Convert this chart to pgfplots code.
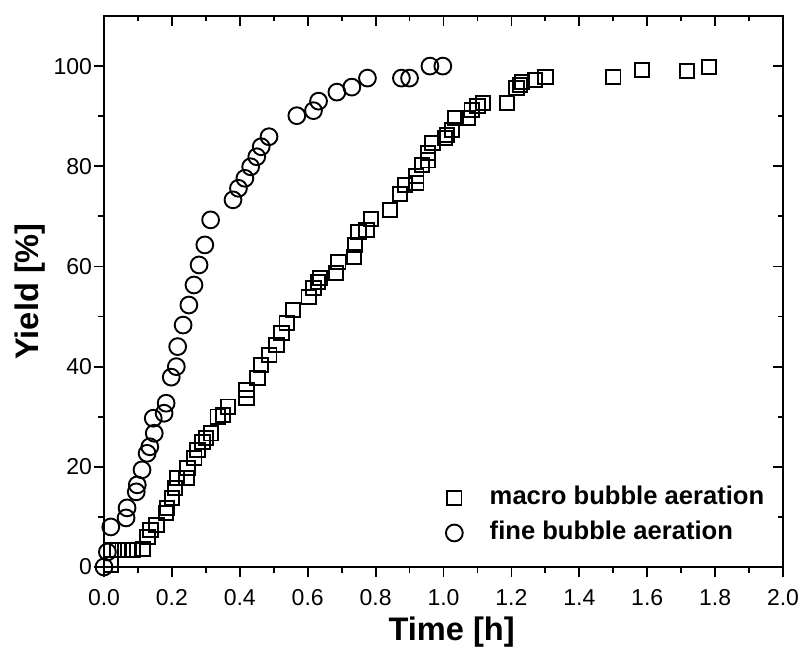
\documentclass[border=0pt]{standalone}
\usepackage{pgfplots}
\pgfplotsset{compat=1.18}
\usepackage{fontspec}
\setmainfont{Liberation Sans}
\pgfplotstableread{
x y
0.02 0.5
0.02 3.4
0.04 3.4
0.055 3.4
0.07 3.4
0.085 3.4
0.115 3.6
0.128 6
0.137 7.4
0.155 8.4
0.183 10.8
0.186 11.8
0.2 13.8
0.209 15.8
0.215 17.8
0.243 17.8
0.246 19.8
0.266 21.8
0.275 23.4
0.29 25
0.3 25.8
0.315 26.7
0.335 30
0.35 30.3
0.365 32
0.42 33.7
0.42 35.3
0.452 37.7
0.462 40.3
0.487 42.3
0.508 44.3
0.523 46.7
0.538 48.7
0.556 51.3
0.603 53.9
0.617 55.7
0.63 56.9
0.636 57.7
0.683 58.7
0.69 60.9
0.736 61.9
0.74 64.3
0.75 66.9
0.773 67.3
0.786 69.5
0.843 71.3
0.872 74.5
0.886 76.3
0.92 76.7
0.92 78.1
0.936 80.3
0.954 81.2
0.954 82.6
0.968 84.6
1.005 85.6
1.01 86.2
1.025 87.2
1.035 89.6
1.072 89.6
1.083 91.2
1.1 92
1.116 92.6
1.187 92.6
1.215 95.6
1.225 96.2
1.232 96.8
1.27 97.2
1.3 97.8
1.5 97.8
1.585 99.2
1.717 99
1.782 99.8
}\macro
\pgfplotstableread{
x y
0 0
0.01 3
0.02 8
0.065 9.8
0.068 11.8
0.095 15
0.098 16.4
0.112 19.4
0.127 22.7
0.135 24
0.148 26.7
0.145 29.7
0.177 30.7
0.183 32.7
0.198 37.9
0.213 40
0.217 44
0.233 48.3
0.25 52.3
0.265 56.3
0.28 60.3
0.297 64.3
0.314 69.3
0.38 73.3
0.396 75.6
0.415 77.6
0.432 79.9
0.45 81.9
0.463 83.9
0.486 85.9
0.568 90.1
0.617 91.1
0.632 93
0.686 94.8
0.73 95.8
0.776 97.6
0.876 97.6
0.9 97.6
0.96 100
0.998 100
}\fine
\begin{document}
\begin{tikzpicture}
\pgfplotsset{
  common/.style={
    scale only axis, width=339.5pt, height=275.5pt,
    xmin=0, xmax=2, ymin=0, ymax=110,
    xtick={0,0.2,0.4,0.6,0.8,1.0,1.2,1.4,1.6,1.8,2.0},
    ytick={0,20,40,60,80,100},
    minor x tick num=1, minor y tick num=1,
    major tick length=5pt, minor tick length=2.75pt,
    every tick/.style={black, line width=0.9pt},
    axis line style={line width=1pt},
  }
}
\begin{axis}[common, name=main,
  tick align=outside, xtick pos=lower, ytick pos=left,
  clip=false,
  tick label style={font=\fontsize{11.5}{14}\selectfont},
  xticklabel style={/pgf/number format/.cd, fixed, fixed zerofill, precision=1, assume math mode=true,
    /tikz/.cd, text height=8.5pt, text depth=0pt, yshift=-2pt},
  yticklabel style={/pgf/number format/.cd, fixed, precision=0, assume math mode=true,
    /tikz/.cd, xshift=2.5pt},
  xlabel={Time [h]}, ylabel={Yield [\%]},
  label style={font=\fontsize{16.3}{19}\selectfont\bfseries},
  xlabel style={at={(axis description cs:0.512,-0.118)}, anchor=center},
  ylabel style={at={(axis description cs:-0.109,0.5)}, anchor=center},
  legend cell align=left,
  legend style={draw=none, fill=none, inner sep=0pt,
    font=\fontsize{12.8}{15}\selectfont\bfseries,
    at={(rel axis cs:0.503,0.0935)}, anchor=west,
    row sep=2pt,
    nodes={text height=9pt, text depth=2.5pt, inner ysep=2pt},
    /tikz/every odd column/.append style={column sep=11.5pt}},
]
\addplot[only marks, mark=square, mark size=3.6pt, mark options={fill=white, line width=0.95pt}] table[x=x,y=y]{\macro};
\addlegendentry{macro bubble aeration}
\addplot[only marks, mark=o, mark size=4.2pt, mark options={fill=white, line width=0.95pt}] table[x=x,y=y]{\fine};
\addlegendentry{fine bubble aeration}
\end{axis}
\begin{axis}[common, tick align=inside, xtick pos=upper, ytick pos=right,
  xticklabels={}, yticklabels={}]
\end{axis}
\pgfresetboundingbox
\path[use as bounding box] ([xshift=-52pt,yshift=-43pt]main.south west) rectangle ([xshift=9.5pt,yshift=8pt]main.north east);
\end{tikzpicture}
\end{document}
